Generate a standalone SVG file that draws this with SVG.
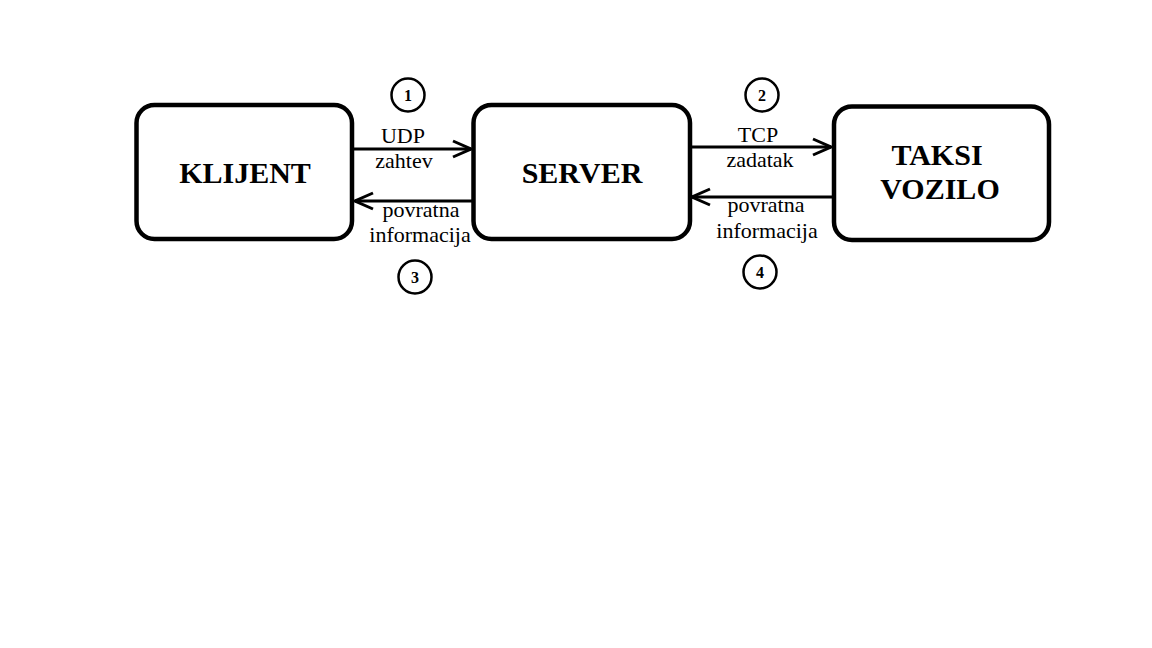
<svg xmlns="http://www.w3.org/2000/svg" width="1152" height="648" viewBox="0 0 1152 648">
<defs>
<style>
.box{fill:#fff;stroke:#000;stroke-width:4.5}
.node{font-family:"Liberation Serif","Times New Roman",serif;font-weight:bold;font-size:30px;fill:#000;text-anchor:middle}
.lbl{font-family:"Liberation Serif","Times New Roman",serif;font-size:22px;fill:#000;text-anchor:middle}
.num{font-family:"Liberation Serif","Times New Roman",serif;font-weight:bold;font-size:16px;fill:#000;text-anchor:middle}
.circ{fill:#fff;stroke:#000;stroke-width:2.5}
.line{stroke:#000;stroke-width:3;fill:none}
</style>
<marker id="arr" viewBox="0 0 20 20" refX="19" refY="10" markerWidth="20" markerHeight="20" markerUnits="userSpaceOnUse" orient="auto">
<path d="M1,2 L19,10 L1,18" fill="none" stroke="#000" stroke-width="3"/>
</marker>
</defs>
<rect width="1152" height="648" fill="#fff"/>
<g id="connectors">
<line class="line" x1="352" y1="149" x2="471" y2="149" marker-end="url(#arr)"/>
<line class="line" x1="473" y1="201" x2="355" y2="201" marker-end="url(#arr)"/>
<line class="line" x1="690" y1="147" x2="831" y2="147" marker-end="url(#arr)"/>
<line class="line" x1="834" y1="197" x2="692" y2="197" marker-end="url(#arr)"/>
<text class="lbl" x="403" y="143">UDP</text>
<text class="lbl" x="404" y="168">zahtev</text>
<text class="lbl" x="421" y="217">povratna</text>
<text class="lbl" x="420" y="242">informacija</text>
<text class="lbl" x="758" y="142">TCP</text>
<text class="lbl" x="760" y="167">zadatak</text>
<text class="lbl" x="766" y="212">povratna</text>
<text class="lbl" x="767" y="238">informacija</text>
</g>
<g id="klijent">
<rect class="box" x="136.5" y="105" width="215.5" height="134" rx="18"/>
<text class="node" x="245" y="183">KLIJENT</text>
</g>
<g id="server">
<rect class="box" x="473.5" y="105" width="216.5" height="134" rx="18"/>
<text class="node" x="582" y="183">SERVER</text>
</g>
<g id="taksi">
<rect class="box" x="834" y="106.5" width="215" height="133.5" rx="18"/>
<text class="node" x="937" y="165">TAKSI</text>
<text class="node" x="940" y="199">VOZILO</text>
</g>
<g id="step1"><circle class="circ" cx="408" cy="95" r="16.5"/><text class="num" x="408" y="101">1</text></g>
<g id="step2"><circle class="circ" cx="762" cy="95" r="16.5"/><text class="num" x="762" y="101">2</text></g>
<g id="step3"><circle class="circ" cx="415" cy="277" r="16.5"/><text class="num" x="415" y="283">3</text></g>
<g id="step4"><circle class="circ" cx="760" cy="272" r="16.5"/><text class="num" x="760" y="278">4</text></g>
</svg>
